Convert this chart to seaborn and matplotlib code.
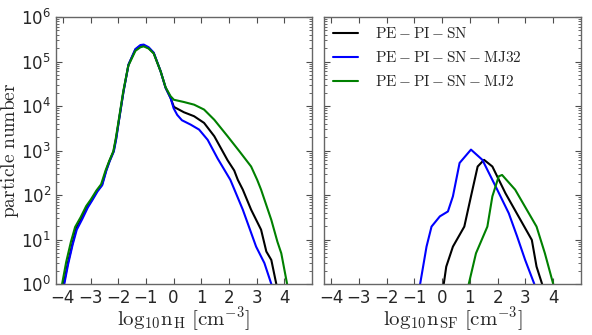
import numpy as np
import pandas as pd
import matplotlib as mpl
import matplotlib.pyplot as plt
import seaborn as sns

# --- data: (log10 density, log10 particle number) ---
labels = [r"$\rm PE-PI-SN$", r"$\rm PE-PI-SN-MJ32$", r"$\rm PE-PI-SN-MJ2$"]
colors = ["black", "blue", "green"]

# left panel: n_H
nh_x_black = [-3.97, -3.83, -3.66, -3.52, -3.32, -3.12, -2.96, -2.76, -2.59,
              -2.44, -2.32, -2.17, -2.08, -1.99, -1.81, -1.63, -1.38, -1.2,
              -1.08, -0.9, -0.72, -0.47, -0.29, -0.11, 0.01, 0.37, 0.74, 1.1,
              1.47, 1.71, 1.95, 2.19, 2.32, 2.5, 2.8, 3.16, 3.35, 3.53, 3.71]
nh_y_black = [0.0, 0.45, 0.9, 1.25, 1.48, 1.73, 1.89, 2.1, 2.23,
              2.55, 2.76, 2.98, 3.27, 3.62, 4.33, 4.93, 5.27, 5.35,
              5.36, 5.3, 5.19, 4.78, 4.41, 4.18, 3.98, 3.86, 3.77, 3.62,
              3.32, 3.05, 2.78, 2.55, 2.34, 2.12, 1.67, 1.22, 0.73, 0.54, 0.0]
nh_x_blue = [-3.95, -3.81, -3.65, -3.5, -3.3, -3.1, -2.94, -2.75, -2.58,
             -2.43, -2.31, -2.16, -2.07, -1.99, -1.81, -1.63, -1.38, -1.2,
             -1.08, -0.9, -0.72, -0.47, -0.29, -0.11, 0.0, 0.13, 0.3, 0.62,
             0.92, 1.23, 1.59, 1.83, 2.05, 2.5, 2.98, 3.28, 3.53]
nh_y_blue = [0.0, 0.45, 0.88, 1.22, 1.46, 1.72, 1.88, 2.08, 2.22,
             2.55, 2.76, 2.98, 3.27, 3.62, 4.33, 4.93, 5.28, 5.37,
             5.38, 5.32, 5.2, 4.78, 4.41, 4.18, 3.95, 3.8, 3.68, 3.58,
             3.47, 3.24, 2.82, 2.57, 2.34, 1.67, 0.84, 0.47, 0.0]
nh_x_green = [-4.03, -3.88, -3.71, -3.56, -3.36, -3.16, -2.99, -2.79, -2.62,
              -2.46, -2.33, -2.18, -2.09, -2.0, -1.82, -1.64, -1.38, -1.2,
              -1.08, -0.9, -0.72, -0.47, -0.29, -0.11, 0.01, 0.37, 0.74, 1.1,
              1.47, 1.95, 2.38, 2.8, 3.02, 3.16, 3.53, 3.75, 3.89, 4.1]
nh_y_green = [0.0, 0.5, 0.95, 1.28, 1.5, 1.75, 1.9, 2.1, 2.24,
              2.55, 2.76, 2.98, 3.27, 3.62, 4.33, 4.9, 5.24, 5.32,
              5.34, 5.29, 5.18, 4.78, 4.42, 4.22, 4.14, 4.09, 4.03, 3.92,
              3.69, 3.32, 2.98, 2.64, 2.34, 2.12, 1.44, 0.95, 0.69, 0.0]

# right panel: n_SF
nsf_x_black = [0.06, 0.15, 0.39, 0.8, 1.04, 1.28, 1.51, 1.81, 2.28, 2.75, 3.23,
               3.4, 3.6]
nsf_y_black = [0.0, 0.39, 0.84, 1.29, 1.97, 2.64, 2.79, 2.64, 2.04, 1.52, 0.99,
               0.39, 0.0]
nsf_x_blue = [-0.79, -0.56, -0.38, -0.08, 0.21, 0.39, 0.63, 1.04, 1.45, 1.93,
              2.4, 2.7, 2.99, 3.32]
nsf_y_blue = [0.0, 0.84, 1.29, 1.52, 1.63, 1.97, 2.72, 3.02, 2.79, 2.19,
              1.59, 1.07, 0.54, 0.0]
nsf_x_green = [0.96, 1.22, 1.63, 1.81, 2.04, 2.16, 2.63, 3.4, 3.7, 4.0]
nsf_y_green = [0.0, 0.69, 1.29, 1.97, 2.42, 2.45, 2.12, 1.29, 0.69, 0.0]

xticks = [-4, -3, -2, -1, 0, 1, 2, 3, 4]


def make_df(xs, ys):
    frames = []
    for lab, x, y in zip(labels, xs, ys):
        frames.append(pd.DataFrame({"x": x, "y": 10.0 ** np.array(y),
                                    "run": lab}))
    return pd.concat(frames, ignore_index=True)


df_nh = make_df([nh_x_black, nh_x_blue, nh_x_green],
                [nh_y_black, nh_y_blue, nh_y_green])
df_sf = make_df([nsf_x_black, nsf_x_blue, nsf_x_green],
                [nsf_y_black, nsf_y_blue, nsf_y_green])

sns.set_style("ticks")
mpl.rcParams["font.family"] = ["DejaVu Sans"]
mpl.rcParams["mathtext.fontset"] = "cm"
mpl.rcParams["xtick.direction"] = "in"
mpl.rcParams["ytick.direction"] = "in"
mpl.rcParams["xtick.top"] = True
mpl.rcParams["ytick.right"] = True
mpl.rcParams["axes.edgecolor"] = "0.4"

palette = dict(zip(labels, colors))

fig = plt.figure(figsize=(5.92, 3.35), dpi=100)
ax1 = fig.add_axes([56 / 592, 51 / 335, 256 / 592, 267 / 335])
ax2 = fig.add_axes([324 / 592, 51 / 335, 257 / 592, 267 / 335])

for ax, df in [(ax1, df_nh), (ax2, df_sf)]:
    sns.lineplot(data=df, x="x", y="y", hue="run", palette=palette,
                 estimator=None, sort=False, linewidth=1.5, ax=ax,
                 legend=(ax is ax2))
    ax.set_yscale("log")
    ax.set_ylim(1, 1e6)
    ax.set_xlim(-4.25, 5)
    ax.set_xticks(xticks)
    ax.tick_params(which="both", labelsize=12, color="0.3")
    ax.tick_params(which="major", length=4)
    ax.tick_params(which="minor", length=2)
    ax.set_ylabel("")
    ax.xaxis.set_label_coords(0.5, -0.08)
    for s in ax.spines.values():
        s.set_linewidth(1.0)

ax1.set_ylabel(r"$\rm particle\ number$", fontsize=14)
ax1.yaxis.set_label_coords(-0.135, 0.5)
ax1.set_xlabel(r"$\rm log_{10}n_{H}\ [cm^{-3}]$", fontsize=15)
ax2.set_xlabel(r"$\rm log_{10}n_{SF}\ [cm^{-3}]$", fontsize=15)
ax2.tick_params(axis="y", which="both", labelleft=False)

leg = ax2.legend(loc="upper left", bbox_to_anchor=(0.0, 1.0), frameon=False,
                 fontsize=11, handlelength=1.65, handletextpad=1.1,
                 labelspacing=0.6, borderaxespad=0.2)
for h in leg.get_lines():
    h.set_linewidth(1.5)

fig.savefig("out.png", dpi=100, facecolor="white")
